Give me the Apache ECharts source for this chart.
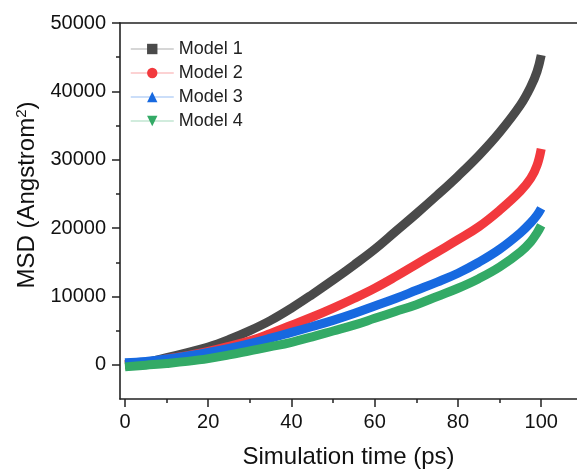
<!DOCTYPE html>
<html>
<head>
<meta charset="utf-8">
<script src="https://cdn.jsdelivr.net/npm/echarts@6/dist/echarts.min.js"></script>
<style>
  html, body { margin: 0; padding: 0; background: #fff; }
  #chart { width: 577px; height: 469px; }
</style>
</head>
<body>
<div id="chart"></div>
<script>
// simulation time (ps)
const times = [0, 5, 10, 15, 20, 25, 30, 35, 40, 45, 50, 55, 60, 65, 70, 75, 80, 85, 90, 95, 97.5, 99, 100]
// MSD (Angstrom^2)
const model1 = [0, 350, 1050, 1800, 2600, 3700, 5000, 6500, 8300, 10300, 12400, 14600, 16900, 19500, 22100, 24800, 27600, 30600, 34000, 38000, 40700, 42900, 45300]
const model2 = [0, 300, 850, 1350, 1950, 2700, 3500, 4600, 5800, 7000, 8300, 9700, 11200, 12900, 14700, 16500, 18300, 20200, 22600, 25400, 27300, 29200, 31600]
const model3 = [300, 500, 850, 1300, 1800, 2400, 3100, 3900, 4750, 5600, 6500, 7500, 8600, 9700, 10900, 12100, 13400, 15000, 16900, 19300, 20800, 21900, 22900]
const model4 = [-300, -50, 200, 500, 900, 1450, 2050, 2650, 3300, 4100, 4950, 5800, 6800, 7800, 8800, 10000, 11200, 12600, 14300, 16500, 18000, 19300, 20400]

const names = ['Model 1', 'Model 2', 'Model 3', 'Model 4']
const colors = ['#4a4a4a', '#f2393d', '#1769e0', '#33aa66']
const symbols = ['rect', 'circle', 'triangle', 'triangle']
const rotates = [0, 0, 0, 180]

const xMajor = [0, 20, 40, 60, 80, 100]
const xMinor = [10, 30, 50, 70, 90]
const yMajor = [0, 10000, 20000, 30000, 40000, 50000]
const yMinor = [5000, 15000, 25000, 35000, 45000]

const axisColor = '#222'
const font = 'Liberation Sans, Arial, sans-serif'

function pairs(ys) {
  return times.map((t, i) => [t, ys[i]])
}

const allData = [model1, model2, model3, model4]

let chart = echarts.init(document.getElementById('chart'))

let option = {
  animation: false,
  backgroundColor: '#fff',
  textStyle: { fontFamily: font },
  grid: {
    left: 120,
    right: 0,
    top: 23,
    bottom: 70,
    outerBoundsMode: 'none',
  },
  legend: {
    left: 130,
    top: 39,
    padding: 0,
    orient: 'vertical',
    itemWidth: 43,
    itemHeight: 13,
    itemGap: 4,
    textStyle: { fontSize: 18, lineHeight: 20, color: '#222', fontFamily: font },
    lineStyle: { width: 1.5, opacity: 0.3 },
    data: names,
  },
  xAxis: [
    {
      type: 'value',
      min: -1.2,
      max: 108.6,
      name: 'Simulation time (ps)',
      nameLocation: 'middle',
      nameGap: 46,
      nameTextStyle: { fontSize: 24, color: '#111', fontFamily: font },
      axisLine: { onZero: false, lineStyle: { color: axisColor, width: 1.6 } },
      axisTick: { show: true, customValues: xMajor, length: 8, lineStyle: { color: axisColor, width: 1.5 } },
      axisLabel: { customValues: xMajor, fontSize: 20, color: '#111', margin: 13 },
      splitLine: { show: false },
    },
    {
      type: 'value',
      position: 'bottom',
      min: -1.2,
      max: 108.6,
      axisLine: { show: false, onZero: false },
      axisTick: { show: true, customValues: xMinor, length: 4, lineStyle: { color: axisColor, width: 1.5 } },
      axisLabel: { show: false },
      splitLine: { show: false },
    },
    {
      type: 'value',
      position: 'top',
      min: -1.2,
      max: 108.6,
      axisLine: { show: true, onZero: false, lineStyle: { color: axisColor, width: 1.6 } },
      axisTick: { show: false },
      axisLabel: { show: false },
      splitLine: { show: false },
    },
  ],
  yAxis: [
    {
      type: 'value',
      min: -5000,
      max: 50000,
      name: 'MSD (Angstrom{sup|2})',
      nameLocation: 'middle',
      nameGap: 78,
      nameRotate: 90,
      nameTextStyle: {
        fontSize: 24,
        color: '#111',
        fontFamily: font,
        padding: [0, 0, 0, 32],
        rich: {
          sup: { fontSize: 15, padding: [0, 0, 12, 0], color: '#111', fontFamily: font },
        },
      },
      axisLine: { onZero: false, lineStyle: { color: axisColor, width: 1.6 } },
      axisTick: { show: true, customValues: yMajor, length: 8, lineStyle: { color: axisColor, width: 1.5 } },
      axisLabel: {
        customValues: yMajor,
        fontSize: 20,
        color: '#111',
        margin: 14,
        formatter: function (v) { return String(v) },
      },
      splitLine: { show: false },
    },
    {
      type: 'value',
      position: 'left',
      min: -5000,
      max: 50000,
      axisLine: { show: false, onZero: false },
      axisTick: { show: true, customValues: yMinor, length: 4, lineStyle: { color: axisColor, width: 1.5 } },
      axisLabel: { show: false },
      splitLine: { show: false },
    },
  ],
  series: names.map((name, i) => ({
    name: name,
    type: 'line',
    xAxisIndex: 0,
    yAxisIndex: 0,
    data: pairs(allData[i]),
    smooth: 0.4,
    symbol: symbols[i],
    symbolRotate: rotates[i],
    symbolSize: 10,
    showSymbol: false,
    color: colors[i],
    itemStyle: { color: colors[i] },
    lineStyle: { width: 9, color: colors[i] },
  })),
}

chart.setOption(option)

window.addEventListener('resize', function () {
  chart.resize()
})
</script>
</body>
</html>
